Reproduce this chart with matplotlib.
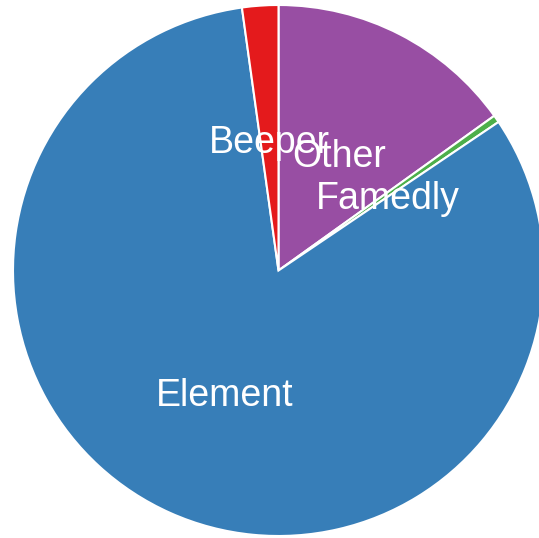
import numpy as np
import matplotlib.pyplot as plt

# shares per client (clockwise from 12 o'clock)
labels = ['Other', 'Famedly', 'Element', 'Beeper']
shares = [15.1, 0.45, 82.25, 2.2]
colors = ['#984ea3', '#4daf4a', '#377eb8', '#e41a1c']

fig = plt.figure(figsize=(5.39, 5.38), dpi=100)
ax = fig.add_axes([0, 0, 1, 1])

wedges, _ = ax.pie(shares, colors=colors, startangle=90, counterclock=False,
                   wedgeprops=dict(edgecolor='white', linewidth=1.5))

# labels at half the radius, centred on each wedge
for w, lab in zip(wedges, labels):
    mid = np.deg2rad((w.theta1 + w.theta2) / 2)
    ax.text(0.5 * np.cos(mid), 0.5 * np.sin(mid) - 0.017, lab, ha='center', va='center',
            color='white', fontsize=27, family=['Liberation Sans', 'DejaVu Sans'])

r = 265.5
ax.set_aspect('auto')
ax.set_xlim(-278.5 / r, (539 - 278.5) / r)
ax.set_ylim(-(538 - 270.5) / r, 270.5 / r)
ax.axis('off')

fig.savefig('out.png', dpi=100)
